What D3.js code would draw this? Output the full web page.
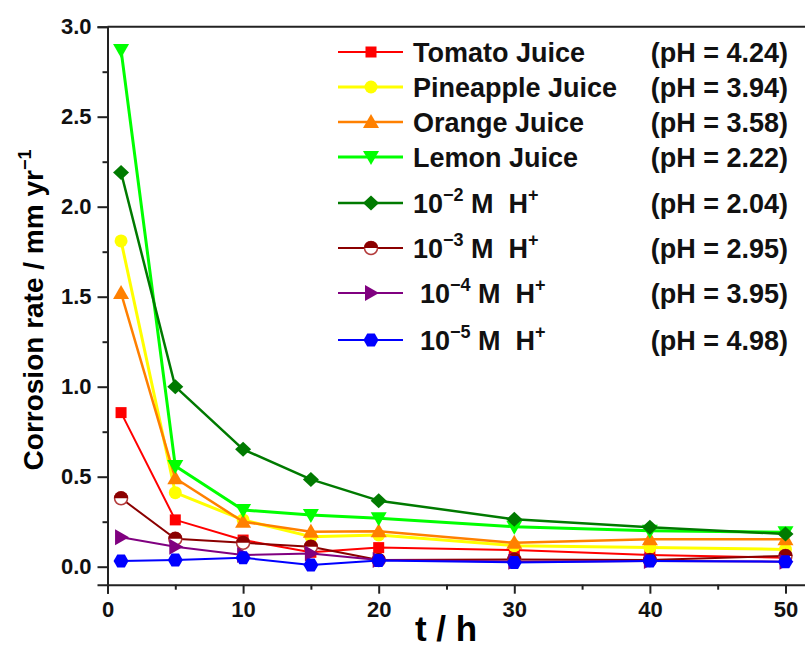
<!DOCTYPE html>
<meta charset="utf-8">
<style>
  body { margin: 0; background: #fff; }
  svg { display: block; font-family: "Liberation Sans", Arial, sans-serif; }
  text { white-space: pre; }
</style>
<svg width="805" height="649"></svg>
<script src="https://d3js.org/d3.v7.min.js"></script>
<script>

// time points (h)
var hours = [1, 5, 10, 15, 20, 30, 40, 50];

// corrosion rate, mm/yr
var tomato    = [0.856, 0.26, 0.148, 0.08, 0.106, 0.093, 0.065, 0.05];
var pineapple = [1.81, 0.411, 0.26, 0.167, 0.176, 0.117, 0.107, 0.096];
var orange    = [1.52, 0.491, 0.25, 0.194, 0.197, 0.133, 0.152, 0.152];
var lemon     = [2.87, 0.559, 0.315, 0.287, 0.269, 0.222, 0.2, 0.192];
var h2        = [2.19, 1.0, 0.652, 0.485, 0.367, 0.263, 0.219, 0.182];
var h3        = [0.38, 0.155, 0.133, 0.111, 0.037, 0.04, 0.037, 0.06];
var h4        = [0.163, 0.111, 0.065, 0.074, 0.037, 0.028, 0.032, 0.028];
var h5        = [0.032, 0.037, 0.05, 0.009, 0.035, 0.024, 0.032, 0.028];

var seriesNames = ['Tomato Juice', 'Pineapple Juice', 'Orange Juice', 'Lemon Juice', '10', '10', '10', '10'];
var seriesExp   = [null, null, null, null, '\u22122', '\u22123', '\u22124', '\u22125'];
var phLabels    = ['(pH = 4.24)', '(pH = 3.94)', '(pH = 3.58)', '(pH = 2.22)',
                   '(pH = 2.04)', '(pH = 2.95)', '(pH = 3.95)', '(pH = 4.98)'];

var xTicks = [0, 10, 20, 30, 40, 50];
var xMinor = [5, 15, 25, 35, 45];
var yTicks = [0, 0.5, 1.0, 1.5, 2.0, 2.5, 3.0];
var yMinor = [0.25, 0.75, 1.25, 1.75, 2.25, 2.75];

var allValues = [tomato, pineapple, orange, lemon, h2, h3, h4, h5];
var colors = ['#ff0000', '#ffff00', '#ff8000', '#00ff00', '#007a00', '#8b0000', '#800080', '#0000ff'];
var shapes = ['square', 'circle', 'up', 'down', 'diamond', 'half', 'right', 'hex'];
var widths = [2, 3, 2.5, 3, 2.5, 2, 2, 2];

var svg = d3.select('svg');

var x = d3.scaleLinear().domain([0, 52]).range([107.5, 812.6]);
var y = d3.scaleLinear().domain([-0.1, 3.0]).range([584.7, 26.7]);

// axes
svg.append('g').attr('transform', 'translate(0,' + y(-0.1) + ')')
  .call(d3.axisBottom(x).tickValues(xTicks).tickSize(9).tickPadding(8).tickFormat(d3.format('d')));
svg.append('g').attr('transform', 'translate(0,' + y(-0.1) + ')')
  .call(d3.axisBottom(x).tickValues(xMinor).tickSize(5).tickFormat(''))
  .select('.domain').remove();

svg.append('g').attr('transform', 'translate(' + x(0) + ',0)')
  .call(d3.axisLeft(y).tickValues(yTicks).tickSize(10).tickPadding(6).tickFormat(d3.format('.1f')));
svg.append('g').attr('transform', 'translate(' + x(0) + ',0)')
  .call(d3.axisLeft(y).tickValues(yMinor).tickSize(5).tickFormat(''))
  .select('.domain').remove();

svg.selectAll('.domain').attr('stroke', '#222').attr('stroke-width', 2);
svg.selectAll('.tick line').attr('stroke', '#222').attr('stroke-width', 2);
svg.selectAll('.tick text')
  .attr('font-family', '"Liberation Sans", Arial, sans-serif')
  .attr('font-weight', 'bold').attr('font-size', 22).attr('fill', '#111');

// top frame line
svg.append('line')
  .attr('x1', x(0)).attr('x2', 805)
  .attr('y1', y(3.0)).attr('y2', y(3.0))
  .attr('stroke', '#222').attr('stroke-width', 2);

// axis titles
svg.append('text')
  .attr('x', 446).attr('y', 641)
  .attr('text-anchor', 'middle')
  .attr('font-weight', 'bold').attr('font-size', 35)
  .text('t / h');

var yl = svg.append('text')
  .attr('transform', 'translate(43,310) rotate(-90)')
  .attr('text-anchor', 'middle')
  .attr('font-weight', 'bold').attr('font-size', 28);
yl.append('tspan').text('Corrosion rate / mm yr');
yl.append('tspan').attr('font-size', 18).attr('dy', -12).text('\u22121');

// marker drawing
function marker(g, shape, color) {
  if (shape === 'square') {
    g.append('rect').attr('x', -5.5).attr('y', -5.5).attr('width', 11).attr('height', 11).attr('fill', color);
  } else if (shape === 'circle') {
    g.append('circle').attr('r', 6.5).attr('fill', color);
  } else if (shape === 'up') {
    g.append('path').attr('d', 'M0,-8 L8,6 L-8,6 Z').attr('fill', color);
  } else if (shape === 'down') {
    g.append('path').attr('d', 'M0,8 L8,-6 L-8,-6 Z').attr('fill', color);
  } else if (shape === 'right') {
    g.append('path').attr('d', 'M8,0 L-6,8 L-6,-8 Z').attr('fill', color);
  } else if (shape === 'diamond') {
    g.append('path').attr('d', 'M0,-7.5 L8,0 L0,7.5 L-8,0 Z').attr('fill', color);
  } else if (shape === 'hex') {
    var pts = d3.range(6).map(function(i) {
      var a = Math.PI / 3 * i;
      return [7.5 * Math.cos(a), 7.5 * Math.sin(a)];
    });
    g.append('path').attr('d', 'M' + pts.join('L') + 'Z').attr('fill', color);
  } else if (shape === 'half') {
    g.append('circle').attr('r', 6.5).attr('fill', '#fff').attr('stroke', '#b33a3a').attr('stroke-width', 1.5);
    g.append('path').attr('d', 'M-7,0 A7,7 0 0 1 7,0 Z').attr('fill', color);
  }
}

var line = d3.line()
  .x(function(d) { return x(d[0]); })
  .y(function(d) { return y(d[1]); });

var plot = svg.append('g');

allValues.forEach(function(vals, i) {
  var pts = hours.map(function(h, j) { return [h, vals[j]]; });
  var g = plot.append('g');
  g.append('path')
    .attr('d', line(pts))
    .attr('fill', 'none')
    .attr('stroke', colors[i])
    .attr('stroke-width', widths[i])
    .attr('stroke-linejoin', 'round');
  g.selectAll('g.pt')
    .data(pts)
    .enter().append('g')
    .attr('class', 'pt')
    .attr('transform', function(d) { return 'translate(' + x(d[0]) + ',' + y(d[1]) + ')'; })
    .each(function() { marker(d3.select(this), shapes[i], colors[i]); });
});

// legend
var rowY = [52, 87, 122, 157, 203, 248, 293, 340];
var legend = svg.append('g');

seriesNames.forEach(function(name, i) {
  var row = legend.append('g').attr('transform', 'translate(0,' + rowY[i] + ')');
  row.append('line')
    .attr('x1', 338).attr('x2', 403)
    .attr('stroke', colors[i]).attr('stroke-width', widths[i]);
  var m = row.append('g').attr('transform', 'translate(371,0)');
  marker(m, shapes[i], colors[i]);

  var t = row.append('text')
    .attr('x', i >= 6 ? 420 : 413).attr('y', 10)
    .attr('font-weight', 'bold').attr('font-size', 27).attr('fill', '#111');
  t.append('tspan').text(name);
  if (seriesExp[i]) {
    t.append('tspan').attr('font-size', 18).attr('dy', -12).text(seriesExp[i]);
    t.append('tspan').attr('dy', 12).text(' M  H');
    t.append('tspan').attr('font-size', 18).attr('dy', -12).text('+');
  }

  row.append('text')
    .attr('x', 788).attr('y', 10)
    .attr('text-anchor', 'end')
    .attr('font-weight', 'bold').attr('font-size', 27).attr('fill', '#111')
    .text(phLabels[i]);
});

</script>
